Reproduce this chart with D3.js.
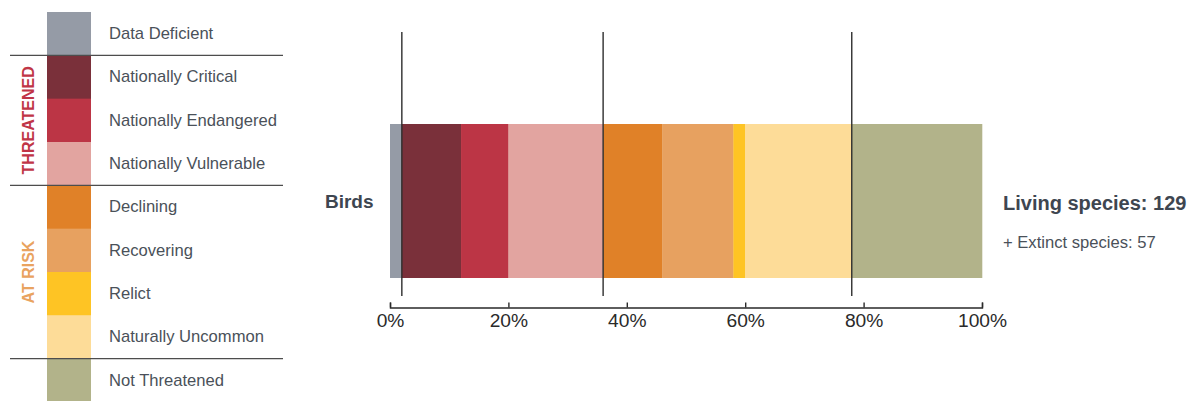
<!DOCTYPE html>
<html>
<head>
<meta charset="utf-8">
<script src="https://cdn.jsdelivr.net/npm/d3@7"></script>
<style>
  html, body { margin: 0; padding: 0; background: #fff; }
  svg { display: block; font-family: "Liberation Sans", Arial, Helvetica, sans-serif; }
</style>
</head>
<body>
<svg id="chart" width="1187" height="401"></svg>
<script>
// ---- data ----
const categories = ["Data Deficient", "Nationally Critical", "Nationally Endangered", "Nationally Vulnerable",
  "Declining", "Recovering", "Relict", "Naturally Uncommon", "Not Threatened"];
const percentages = [2, 10, 8, 16, 10, 12, 2, 18, 22];
const colors = ["#959ba6", "#7a303a", "#bc3545", "#e2a4a0", "#e08128", "#e7a160", "#fec424", "#fddc98", "#b2b38a"];
const groupNames = ["THREATENED", "AT RISK"];
const groupFirst = [1, 4];
const groupLast = [3, 7];
const groupColors = ["#c03546", "#e9a35f"];
const dividerAfter = [0, 3, 7];
const rowLabel = "Birds";
const livingLabel = "Living species: 129";
const extinctLabel = "+ Extinct species: 57";
const tickValues = [0, 20, 40, 60, 80, 100];

// ---- drawing ----
const svg = d3.select("#chart");
const textColor = "#4a5159";

// cumulative stacks
let acc = 0;
const segs = percentages.map((v, i) => { const s = { i, x0: acc, x1: acc + v }; acc += v; return s; });

const x = d3.scaleLinear().domain([0, 100]).range([390, 982]);
const barTop = 124, barBottom = 278;

// legend
const ly = d3.scaleBand().domain(categories).range([12, 402]).padding(0);
const legend = svg.append("g");
legend.selectAll("rect").data(categories).join("rect")
  .attr("x", 47).attr("width", 44)
  .attr("y", d => ly(d)).attr("height", ly.bandwidth() + 0.5)
  .attr("fill", (d, i) => colors[i]);
legend.selectAll("text.lab").data(categories).join("text").attr("class", "lab")
  .attr("x", 109).attr("y", d => ly(d) + ly.bandwidth() / 2)
  .attr("dy", "0.33em")
  .attr("font-size", 16.6).attr("fill", textColor)
  .text(d => d);
legend.selectAll("line").data(dividerAfter).join("line")
  .attr("x1", 10).attr("x2", 283)
  .attr("y1", d => ly(categories[d]) + ly.bandwidth())
  .attr("y2", d => ly(categories[d]) + ly.bandwidth())
  .attr("stroke", "#4d4d4d").attr("stroke-width", 1.4);
legend.selectAll("text.grp").data(groupNames).join("text").attr("class", "grp")
  .attr("transform", (d, i) => {
    const cy = (ly(categories[groupFirst[i]]) + ly(categories[groupLast[i]]) + ly.bandwidth()) / 2;
    return `translate(28,${cy}) rotate(-90)`;
  })
  .attr("text-anchor", "middle").attr("dy", "0.36em")
  .attr("font-size", 16).attr("font-weight", "bold")
  .attr("fill", (d, i) => groupColors[i])
  .text(d => d);

// bar
svg.append("g").selectAll("rect").data(segs).join("rect")
  .attr("x", d => x(d.x0)).attr("width", d => x(d.x1) - x(d.x0) + 0.3)
  .attr("y", barTop).attr("height", barBottom - barTop)
  .attr("fill", d => colors[d.i]);

// group boundary lines
svg.append("g").selectAll("line").data(dividerAfter).join("line")
  .attr("x1", d => x(segs[d].x1)).attr("x2", d => x(segs[d].x1))
  .attr("y1", 32).attr("y2", 296)
  .attr("stroke", "#2e2e2e").attr("stroke-width", 1.4);

// axis
const axis = d3.axisBottom(x).tickValues(tickValues).tickFormat(d => d + "%")
  .tickSize(-5).tickSizeOuter(-5).tickPadding(5.5);
const ag = svg.append("g").attr("transform", "translate(0,307.5)").call(axis);
ag.select(".domain").attr("stroke", "#2a2a2a").attr("stroke-width", 1.4);
ag.selectAll(".tick line").attr("stroke", "#2a2a2a").attr("stroke-width", 1.4);
ag.selectAll(".tick text").attr("font-size", 19.2).attr("fill", "#2a2a2a")
  .attr("font-family", "\"Liberation Sans\", Arial, sans-serif");

// labels
const cy = (barTop + barBottom) / 2;
svg.append("text").attr("x", x(0) - 16.5).attr("y", cy).attr("dy", "0.36em")
  .attr("text-anchor", "end").attr("font-size", 19).attr("font-weight", "bold")
  .attr("fill", "#3e4650").text(rowLabel);
svg.append("text").attr("x", 1003).attr("y", cy + 9)
  .attr("font-size", 20).attr("font-weight", "bold")
  .attr("fill", "#3e4650").text(livingLabel);
svg.append("text").attr("x", 1003).attr("y", cy + 46.5)
  .attr("font-size", 16.6).attr("fill", textColor).text(extinctLabel);
</script>
</body>
</html>
